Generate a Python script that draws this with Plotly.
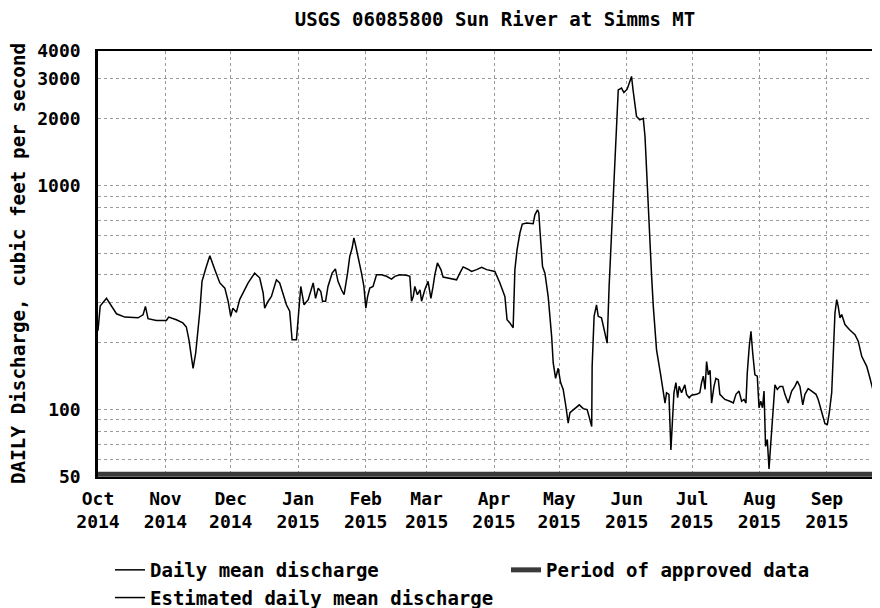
import math
import pandas as pd
import plotly.graph_objects as go

# ---- data ----
start_date = "2014-10-01"
# day offsets from 2014-10-01 and daily mean discharge (cfs)
day_offset = [
    0, 1, 3.9, 8.5, 12.3, 18.4, 20.7, 21.8, 23, 25, 26.8, 31.4, 32.5, 36, 39, 40.6, 41.8, 43.7, 44.9,
    46.8, 47.8, 49.8, 51.4, 53.7, 56, 58.3, 59.8, 61, 62, 63.6, 65.1, 69, 72, 74.3, 75.9, 76.6, 78.2,
    79.7, 82, 83.5, 85, 86.6, 88.1, 89.2, 91.2, 92.3, 93.2, 94.7, 96.6, 98.9, 100, 101.2, 102.4, 103.2,
    104.6, 105.7, 107.6, 109.1, 110.3, 111.9, 113.1, 114.7, 115.7, 116.8, 117.6, 118.5, 119.6, 121.1,
    122.2, 123.1, 123.9, 124.9, 126.4, 128, 130.3, 132.6, 134.9, 136.4, 138.7, 141.8, 143.3, 144.1,
    144.9, 145.6, 146.8, 148, 148.7, 150.2, 151.7, 153, 154, 154.8, 156, 157.6, 158.6, 160.9, 164.8,
    166.3, 167.8, 169.8, 171.7, 174, 176.3, 178.6, 180.9, 182.4, 184.7, 187, 188, 189.3, 190.8, 191.6,
    192.6, 193.9, 195, 197, 200, 200.8, 202, 202.6, 203.1, 204.3, 205.4, 206.9, 208.5, 209.2, 210.3,
    211.5, 212.6, 213.8, 215, 216.1, 216.9, 218.4, 221.2, 223, 224.8, 225.7, 226.9, 227.1, 228, 229.1,
    229.9, 231.4, 233, 234, 234.9, 236, 237.1, 238.3, 239.1, 240.6, 241.7, 243.2, 244.4, 245.2, 245.9,
    246.7, 247.5, 249, 250.6, 251.4, 252.4, 253.7, 254.4, 255.2, 256.7, 258.6, 259.8, 260.6, 261.3,
    262.4, 263.3, 263.9, 264.7, 265.6, 266.4, 267.1, 268.2, 269.7, 270.5, 271.7, 272.8, 275.1, 276.6,
    277.4, 278.2, 279, 279.7, 280.5, 281.3, 282, 283.1, 284, 285.1, 285.8, 288.1, 290.4, 292, 293.2,
    294.6, 295.8, 296.9, 297.8, 298.4, 299.3, 300.1, 300.9, 301.9, 303, 303.8, 304.6, 305.4, 306.1,
    306.8, 307.6, 308.4, 309.1, 310.1, 311.1, 312.2, 313.4, 314.7, 315.7, 317.2, 318.8, 320.3, 321.4,
    322.6, 323.9, 324.9, 326.4, 328, 330, 331, 332.6, 334.1, 335.2, 336.1, 337.2, 338, 338.7, 339.5,
    340.2, 341, 341.8, 343.3, 345.3, 347.9, 349.4, 351, 353.3, 354.8, 356.3, 357.9, 359.1, 360,
]
discharge = [
    225, 290, 314, 268, 259, 257, 265, 289, 255, 253, 250, 250, 259, 252, 244, 234, 205, 153, 179,
    275, 374, 436, 487, 422, 368, 349, 305, 261, 284, 272, 310, 368, 407, 388, 332, 284, 305,
    320, 380, 368, 332, 294, 275, 205, 205, 270, 355, 294, 310, 368, 314, 349, 337, 305,
    305, 355, 407, 425, 374, 343, 326, 407, 483, 527, 585, 536, 483, 407,
    355, 284, 320, 349, 355, 400, 400, 394, 383, 394, 400, 398, 394, 305,
    320, 355, 326, 343, 305, 343, 374, 314, 355, 400, 452, 422, 391, 388, 380,
    407, 434, 425, 414, 422, 432, 422, 419, 414, 368, 320, 252, 244, 232, 422,
    518, 615, 674, 681, 677, 742, 781, 755, 636, 436, 407, 320, 212, 162, 138,
    153, 132, 123, 104, 87, 97, 100, 105, 101, 100, 93, 84, 156, 261, 294,
    261, 257, 220, 198, 355, 594, 1064, 2041, 2680, 2730, 2610, 2700, 2920, 3080, 2680,
    2340, 2040, 1970, 2000, 1660, 993, 594, 400, 290, 185, 143, 116, 107, 119,
    117, 66, 90, 119, 132, 113, 127, 119, 129, 117, 113, 116, 117, 119,
    132, 141, 123, 164, 143, 150, 107, 127, 138, 136, 117, 111, 109, 107, 117,
    121, 109, 111, 107, 146, 191, 224, 179, 143, 141, 102, 109, 102, 121,
    68.5, 73.5, 54.3, 68.5, 97, 129, 123, 127, 127, 117, 107, 121, 127, 134,
    127, 105, 117, 124, 121, 117, 111, 97, 86.6, 85.9, 97, 119, 185, 270, 310,
    289, 257, 266, 240, 228, 216, 202, 173, 156, 138, 121, 115, 109, 105,
]
approved_period = ["2014-10-01", "2015-09-30"]
approved_level = 51.5

month_ticks = ["2014-10-01", "2014-11-01", "2014-12-01", "2015-01-01", "2015-02-01", "2015-03-01",
               "2015-04-01", "2015-05-01", "2015-06-01", "2015-07-01", "2015-08-01", "2015-09-01"]
month_labels = ["Oct<br>2014", "Nov<br>2014", "Dec<br>2014", "Jan<br>2015", "Feb<br>2015", "Mar<br>2015",
                "Apr<br>2015", "May<br>2015", "Jun<br>2015", "Jul<br>2015", "Aug<br>2015", "Sep<br>2015"]
y_tick_vals = [50, 60, 70, 80, 90, 100, 200, 300, 400, 500, 600, 700, 800, 900, 1000, 2000, 3000, 4000]
y_tick_text = ["50", "", "", "", "", "100", "", "", "", "", "", "", "", "", "1000", "2000", "3000", "4000"]
x_range = ["2014-10-01", "2015-09-25 09:36"]
y_range = [50, 4000]

title_text = "USGS 06085800 Sun River at Simms MT"
y_title = "DAILY Discharge, cubic feet per second"

# ---- figure ----
dates = pd.Timestamp(start_date) + pd.to_timedelta(day_offset, unit="D")
FONT = "DejaVu Sans Mono"
W, H = 872, 600          # page body has an 8px margin
ML, MT, MB = 90, 43, 131
PW = W - ML              # plot width (right margin 0)
PH = H - MT - MB
LEG_TOP = 543            # legend top, figure pixels

fig = go.Figure()
fig.add_trace(go.Scatter(x=dates, y=discharge, mode="lines", name="Daily mean discharge",
                         line=dict(color="black", width=1.5), legend="legend"))
fig.add_trace(go.Scatter(x=approved_period, y=[approved_level, approved_level], mode="lines",
                         name="Period of approved data", line=dict(color="#3a3a3a", width=5),
                         legend="legend2"))
fig.add_trace(go.Scatter(x=[None], y=[None], mode="lines", name="Estimated daily mean discharge",
                         line=dict(color="black", width=1.5), legend="legend"))

grid = dict(showgrid=True, gridcolor="#9a9a9a", gridwidth=1, griddash="dot")
tickfont = dict(family=FONT, size=18, color="black", weight="bold")
legfont = dict(family=FONT, size=19, color="black", weight="bold")

fig.update_layout(
    width=W, height=H,
    margin=dict(l=ML, r=0, t=MT, b=MB, autoexpand=False),
    paper_bgcolor="white", plot_bgcolor="white",
    title=dict(text=title_text, x=487 / W, xref="container", xanchor="center",
               y=1 - 11 / H, yref="container", yanchor="middle",
               font=dict(family=FONT, size=19, color="black", weight="bold")),
    xaxis=dict(type="date", range=x_range, tickmode="array", tickvals=month_ticks, ticktext=month_labels,
               tickangle=0, ticks="outside", ticklen=4, tickcolor="rgba(0,0,0,0)",
               showline=True, linecolor="black", linewidth=2, mirror=True, tickfont=tickfont, **grid),
    yaxis=dict(type="log", range=[math.log10(y_range[0]), math.log10(y_range[1])], tickmode="array",
               tickvals=y_tick_vals, ticktext=y_tick_text, ticks="outside", ticklen=11,
               tickcolor="rgba(0,0,0,0)", showline=True, linecolor="black", linewidth=2.5, mirror=True,
               tickfont=tickfont, **grid),
    showlegend=True,
    legend=dict(orientation="v", x=(102 - ML) / PW, y=-(LEG_TOP - (H - MB)) / PH,
                xanchor="left", yanchor="top", traceorder="normal", font=legfont,
                bgcolor="rgba(0,0,0,0)"),
    legend2=dict(orientation="v", x=(498 - ML) / PW, y=-(LEG_TOP - (H - MB)) / PH,
                 xanchor="left", yanchor="top", font=legfont, bgcolor="rgba(0,0,0,0)"),
    annotations=[dict(text=y_title, textangle=-90, x=(10 - ML) / PW, y=0.5, xref="paper", yref="paper",
                      xanchor="center", yanchor="middle", showarrow=False,
                      font=dict(family=FONT, size=19.3, color="black", weight="bold"))],
)

fig.write_html("out.html")
